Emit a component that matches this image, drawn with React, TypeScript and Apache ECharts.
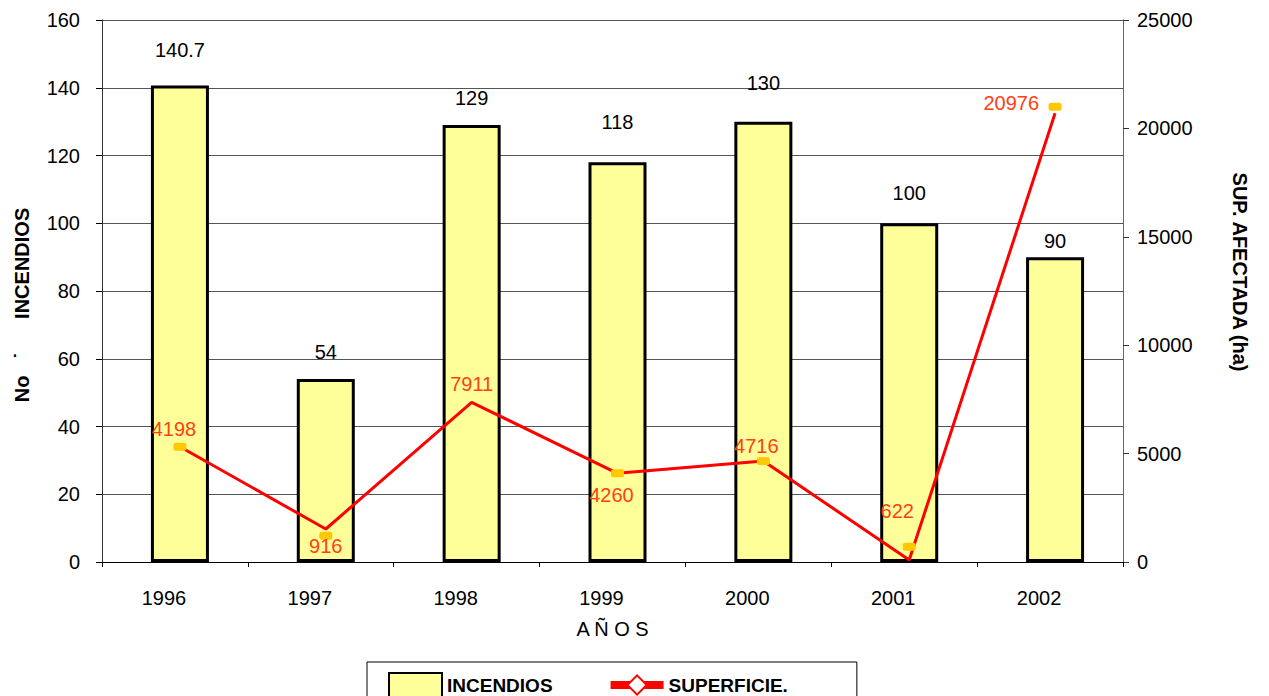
import React, { useEffect, useRef } from "react";
import * as echarts from "echarts";

// ---- data ----
const years = ["1996", "1997", "1998", "1999", "2000", "2001", "2002"];
const incendios = [140.7, 54, 129, 118, 130, 100, 90];
// values printed as labels on the surface line
const superficieLabels = [4198, 916, 7911, 4260, 4716, 622, 20976];
// line vertices as drawn in the picture (ha)
const superficieLine = [5318, 1522, 7366, 4091, 4659, 92, 20696];
// square markers as drawn in the picture (ha); 1998 marker not visible
const superficieMarkers = [5318, 1213, null, 4091, 4659, 706, 21000];
const leftTicks = { min: 0, max: 160, interval: 20 };
const rightTicks = { min: 0, max: 25000, interval: 5000 };

const FONT = "'Liberation Sans', Arial, sans-serif";
const LABEL_RED = "#FF4015";

export default function App() {
  const ref = useRef<HTMLDivElement>(null);
  useEffect(() => {
    if (!ref.current) return;
    const chart = echarts.init(ref.current, undefined, { renderer: "svg" });

    const lineLabelCfg: any[] = [
      { position: "top", distance: 8, offset: [-6, 0] },
      { position: "bottom", distance: 7 },
      { position: "top", distance: 8 },
      { position: "bottom", distance: 12, offset: [-6, 0] },
      { position: "top", distance: 5, offset: [-7, 0] },
      { position: "top", distance: 39, offset: [-12, 0] },
      { position: "left", distance: 16, offset: [0, -10] },
    ];
    const barLabelDistance = [25, 17, 17, 30, 29, 20, 6];

    const option: any = {
      animation: false,
      backgroundColor: "#fff",
      textStyle: { fontFamily: FONT },
      grid: [
        { left: 102, top: 20, width: 1021, height: 542 },
        { left: 107, top: 20, width: 1021, height: 542 },
      ],
      legend: {
        left: 367,
        top: 662,
        orient: "horizontal",
        padding: [10, 69, 10, 21],
        borderColor: "#000",
        borderWidth: 1,
        itemWidth: 53,
        itemHeight: 24,
        itemGap: 54,
        textStyle: { fontFamily: FONT, fontWeight: "bold", fontSize: 19, color: "#000" },
        data: [
          { name: "INCENDIOS", icon: "rect", itemStyle: { color: "#FFFF99", borderColor: "#000", borderWidth: 2 } },
          { name: "SUPERFICIE.", lineStyle: { width: 8 } },
        ],
      },
      xAxis: [
        {
          type: "category",
          gridIndex: 0,
          data: years,
          boundaryGap: true,
          axisLine: { lineStyle: { color: "#000", width: 1 } },
          axisTick: { show: true, length: 5, lineStyle: { color: "#000" } },
          axisLabel: { fontSize: 20, color: "#000", margin: 26, padding: [0, 22, 0, 0], fontFamily: FONT },
          name: "A Ñ O S",
          nameLocation: "middle",
          nameGap: 57,
          nameTextStyle: { fontSize: 20, color: "#000", fontFamily: FONT },
        },
        { type: "category", gridIndex: 1, data: years, show: false },
      ],
      yAxis: [
        {
          type: "value",
          gridIndex: 0,
          position: "left",
          ...leftTicks,
          axisLine: { show: true, lineStyle: { color: "#333" } },
          axisTick: { show: true, length: 6, lineStyle: { color: "#000" } },
          axisLabel: { fontSize: 20, color: "#000", margin: 22, fontFamily: FONT },
          splitLine: { show: true, lineStyle: { color: "#555", width: 1 } },
        },
        {
          type: "value",
          gridIndex: 0,
          position: "right",
          ...rightTicks,
          axisLine: { show: true, lineStyle: { color: "#666" } },
          axisTick: { show: true, length: 6, lineStyle: { color: "#333" } },
          axisLabel: {
            fontSize: 20,
            color: "#000",
            margin: 14,
            fontFamily: FONT,
            formatter: (v: number) => String(v),
          },
          splitLine: { show: false },
        },
        { type: "value", gridIndex: 1, ...leftTicks, show: false, splitLine: { show: false } },
        { type: "value", gridIndex: 1, position: "right", ...rightTicks, show: false, splitLine: { show: false } },
      ],
      graphic: [
        {
          type: "text",
          x: 22,
          y: 305,
          rotation: Math.PI / 2,
          style: {
            text: "No   ˙      INCENDIOS",
            fontFamily: FONT,
            fontWeight: "bold",
            fontSize: 20,
            fill: "#000",
            textAlign: "center",
            textVerticalAlign: "middle",
          },
        },
        {
          type: "text",
          x: 1240,
          y: 272,
          rotation: -Math.PI / 2,
          style: {
            text: "SUP. AFECTADA (ha)",
            fontFamily: FONT,
            fontWeight: "bold",
            fontSize: 20,
            fill: "#000",
            textAlign: "center",
            textVerticalAlign: "middle",
          },
        },
      ],
      series: [
        {
          name: "INCENDIOS",
          type: "bar",
          xAxisIndex: 1,
          yAxisIndex: 2,
          data: incendios.map((v, i) => ({ value: v, label: { distance: barLabelDistance[i] } })),
          barWidth: 58,
          itemStyle: { color: "#FFFF99", borderColor: "#000", borderWidth: 3 },
          label: { show: true, position: "top", distance: 20, fontSize: 20, color: "#000", fontFamily: FONT },
        },
        {
          name: "SUPERFICIE.",
          type: "line",
          xAxisIndex: 1,
          yAxisIndex: 3,
          data: superficieLine,
          symbol: "diamond",
          symbolSize: 20,
          showSymbol: false,
          lineStyle: { color: "#FF0000", width: 3 },
          itemStyle: { color: "#fff", borderColor: "#FF0000", borderWidth: 2 },
          z: 3,
        },
        {
          name: "superficieLabels",
          type: "scatter",
          xAxisIndex: 1,
          yAxisIndex: 3,
          data: superficieLine.map((v, i) => ({ value: v, label: lineLabelCfg[i] })),
          symbol: "circle",
          symbolSize: 0.1,
          itemStyle: { color: LABEL_RED, opacity: 1 },
          label: {
            show: true,
            fontSize: 20,
            color: LABEL_RED,
            textBorderWidth: 0,
            opacity: 1,
            fontFamily: FONT,
            formatter: (p: any) => String(superficieLabels[p.dataIndex]),
          },
          z: 5,
          silent: true,
        },
        {
          name: "markers",
          type: "scatter",
          xAxisIndex: 1,
          yAxisIndex: 3,
          data: superficieMarkers,
          symbol: "roundRect",
          symbolSize: [13, 8],
          itemStyle: { color: "#FFC800", opacity: 1 },
          z: 4,
          silent: true,
        },
      ],
    };
    chart.setOption(option);
    return () => chart.dispose();
  }, []);
  return <div ref={ref} style={{ position: "absolute", left: 0, top: 0, width: 1269, height: 696 }} />;
}
